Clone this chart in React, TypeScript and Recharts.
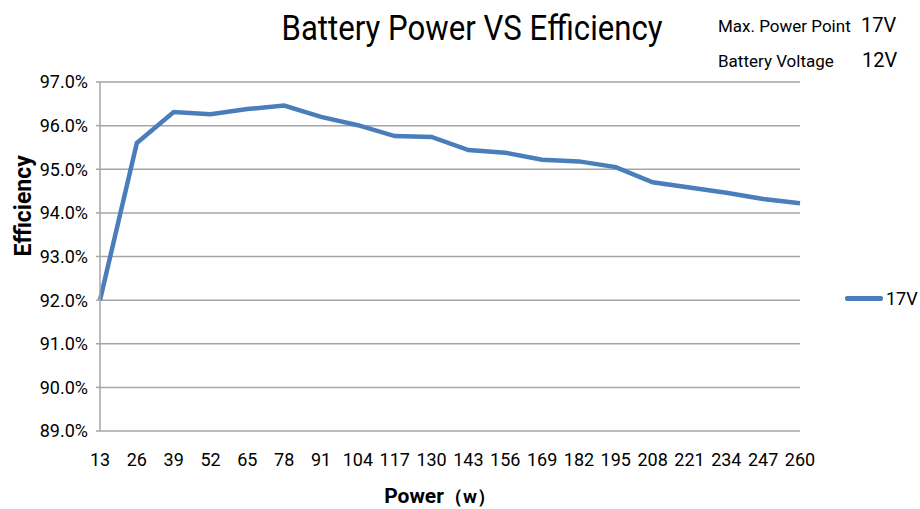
import { LineChart, Line, XAxis, YAxis, CartesianGrid, Legend } from 'recharts'

const powers = [13, 26, 39, 52, 65, 78, 91, 104, 117, 130, 143, 156, 169, 182, 195, 208, 221, 234, 247, 260]
const eff17V = [92.0, 95.6, 96.31, 96.26, 96.38, 96.46, 96.2, 96.01, 95.76, 95.74, 95.44, 95.38, 95.22, 95.18, 95.05, 94.7, 94.58, 94.46, 94.32, 94.22]
const yTicks = [89, 90, 91, 92, 93, 94, 95, 96, 97]

const data = powers.map((p, i) => ({ power: p, v17: eff17V[i] }))

const FONT = 'Roboto, "Open Sans", sans-serif'
const BLUE = '#4a7ebb'
const GRID = '#a6a6a6'

function XLabel({ viewBox }: any) {
  const cx = viewBox.x + viewBox.width / 2
  return (
    <text x={cx - 10} y={503} textAnchor="middle" fontFamily={FONT} fill="#000">
      <tspan fontSize={21} fontWeight="bold">Power</tspan>
      <tspan fontSize={19} fontWeight="bold">（w）</tspan>
    </text>
  )
}

function LegendBox({ payload }: any) {
  return (
    <div>
      {(payload || []).map((p: any) => (
        <div key={p.value} style={{ display: 'flex', alignItems: 'center', fontFamily: FONT, fontSize: 18 }}>
          <span style={{ width: 38, height: 5, background: p.color, borderRadius: 2, marginRight: 3 }} />
          <span style={{ color: '#000' }}>{p.value}</span>
        </div>
      ))}
    </div>
  )
}

export default function App() {
  return (
    <div style={{ position: 'absolute', left: 0, top: 0, width: 920, height: 509, background: '#fff' }}>
      <div style={{
        position: 'absolute', left: 0, width: 944, top: 8, textAlign: 'center', fontFamily: FONT,
        fontSize: 35, color: '#000', transform: 'scaleX(0.89)', transformOrigin: '472px 0'
      }}>
        Battery Power VS Efficiency
      </div>
      <div style={{ position: 'absolute', left: 718, top: 8, fontFamily: FONT, fontSize: 17, color: '#000', lineHeight: '34px' }}>
        <div>Max. Power Point <span style={{ marginLeft: 6, fontSize: 20 }}>17V</span></div>
        <div>Battery Voltage <span style={{ marginLeft: 24, fontSize: 20 }}>12V</span></div>
      </div>
      <LineChart width={920} height={509} data={data} margin={{ top: 82, right: 0, bottom: 0, left: 0 }}>
        <CartesianGrid vertical={false} stroke={GRID} strokeWidth={1.5} />
        <XAxis
          dataKey="power"
          axisLine={false}
          tickLine={false}
          tickSize={0}
          tickMargin={22}
          height={78}
          interval={0}
          tick={{ fontFamily: FONT, fontSize: 18, fill: '#000' }}
          label={<XLabel />}
        />
        <YAxis
          domain={[89, 97]}
          ticks={yTicks}
          width={100}
          stroke={GRID}
          strokeWidth={1.5}
          tickSize={4}
          tickMargin={8}
          tickFormatter={(v: number) => `${v.toFixed(1)}%`}
          tick={{ fontFamily: FONT, fontSize: 18, fill: '#000' }}
          label={{
            value: 'Efficiency', angle: -90, position: 'insideLeft', dx: 18,
            fontFamily: FONT, fontSize: 23, fontWeight: 'bold', fill: '#000'
          }}
        />
        <Legend
          layout="vertical"
          align="right"
          verticalAlign="middle"
          content={<LegendBox />}
          wrapperStyle={{ width: 120, boxSizing: 'border-box', paddingLeft: 45, paddingTop: 88 }}
        />
        <Line
          type="linear" dataKey="v17" name="17V"
          stroke={BLUE} strokeWidth={4.5} dot={false} isAnimationActive={false}
        />
      </LineChart>
    </div>
  )
}
